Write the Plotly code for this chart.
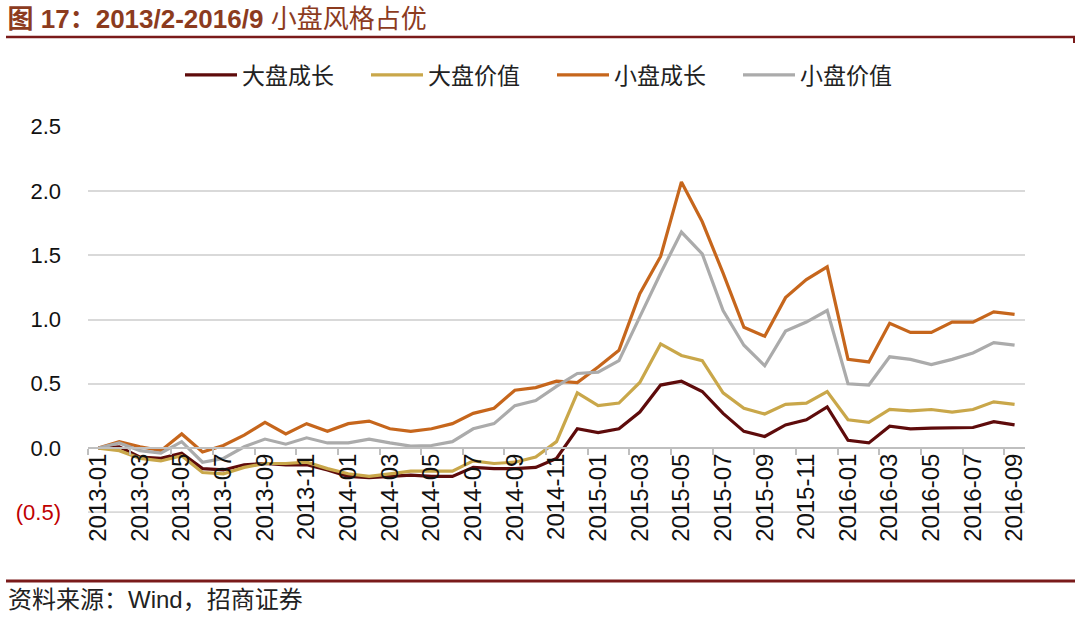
import plotly.graph_objects as go

months = [f"{y}-{m:02d}" for y in (2013, 2014, 2015, 2016) for m in range(1, 13)][:45]

large_growth = [0.00, 0.01, -0.07, -0.08, -0.04, -0.16, -0.17, -0.13, -0.12, -0.13, -0.13, -0.17,
                -0.22, -0.23, -0.22, -0.21, -0.22, -0.22, -0.15, -0.16, -0.16, -0.15, -0.08, 0.15,
                0.12, 0.15, 0.28, 0.49, 0.52, 0.44, 0.27, 0.13, 0.09, 0.18, 0.22, 0.32,
                0.06, 0.04, 0.17, 0.15, 0.155, 0.155, 0.16, 0.205, 0.18]
large_value = [0.00, -0.02, -0.08, -0.10, -0.06, -0.19, -0.20, -0.15, -0.12, -0.12, -0.11, -0.16,
               -0.20, -0.22, -0.20, -0.18, -0.18, -0.18, -0.10, -0.12, -0.11, -0.07, 0.05, 0.43,
               0.33, 0.35, 0.51, 0.81, 0.72, 0.68, 0.43, 0.31, 0.265, 0.34, 0.35, 0.44,
               0.22, 0.20, 0.30, 0.29, 0.30, 0.28, 0.30, 0.36, 0.34]
small_growth = [0.00, 0.05, 0.01, -0.02, 0.11, -0.03, 0.02, 0.10, 0.20, 0.11, 0.19, 0.13,
                0.19, 0.21, 0.15, 0.13, 0.15, 0.19, 0.27, 0.31, 0.45, 0.47, 0.52, 0.51,
                0.63, 0.76, 1.20, 1.49, 2.07, 1.76, 1.36, 0.94, 0.87, 1.17, 1.31, 1.41,
                0.69, 0.67, 0.97, 0.90, 0.90, 0.98, 0.98, 1.06, 1.04]
small_value = [0.00, 0.04, -0.02, -0.04, 0.05, -0.11, -0.08, 0.01, 0.07, 0.03, 0.08, 0.04,
               0.04, 0.07, 0.04, 0.015, 0.02, 0.05, 0.15, 0.19, 0.33, 0.37, 0.48, 0.58,
               0.59, 0.68, 1.02, 1.36, 1.68, 1.51, 1.07, 0.80, 0.64, 0.91, 0.98, 1.07,
               0.50, 0.49, 0.71, 0.69, 0.65, 0.69, 0.74, 0.82, 0.80]

series_names = ["大盘成长", "大盘价值", "小盘成长", "小盘价值"]
series_colors = ["#5E0B0B", "#C9A74A", "#C6661C", "#ABABAB"]
series_values = [large_growth, large_value, small_growth, small_value]

y_ticks = [-0.5, 0.0, 0.5, 1.0, 1.5, 2.0, 2.5]
y_ticktext = ["<span style='color:#C00000'>(0.5)</span>", "0.0", "0.5", "1.0", "1.5", "2.0", "2.5"]

title_text = "<b>图 17：2013/2-2016/9</b> 小盘风格占优"
source_text = "资料来源：Wind，招商证券"

CJK = "Liberation Sans, Arial, Noto Sans CJK SC, sans-serif"

fig = go.Figure()
for name, color, vals in zip(series_names, series_colors, series_values):
    fig.add_trace(go.Scatter(x=months, y=vals, name=name, mode="lines",
                             line=dict(color=color, width=3.2)))

ML, MR, MT, MB = 88, 55, 126, 105
W, H = 1080, 618
pw = W - ML - MR
ph = H - MT - MB
ymin, ymax = -0.505, 2.505

def px_x(px):
    return (px - ML) / pw

def px_y(py):
    return (H - MB - py) / ph

fig.update_layout(
    width=W, height=H,
    margin=dict(l=ML, r=MR, t=MT, b=MB, autoexpand=False),
    paper_bgcolor="white", plot_bgcolor="white",
    font=dict(family=CJK, color="#222222"),
    title=dict(text=title_text, x=0.007, xref="container", xanchor="left",
               y=1 - 19 / H, yref="container", yanchor="middle",
               font=dict(size=26, color="#8C3B1E", family=CJK)),
    showlegend=True,
    legend=dict(orientation="h", x=px_x(552), xanchor="center", y=px_y(75), yanchor="middle",
                font=dict(size=23, family="Noto Sans CJK SC, sans-serif", color="#222222"),
                itemwidth=52, entrywidth=119, bgcolor="rgba(0,0,0,0)"),
    xaxis=dict(type="category", range=[-0.5, 44.5], anchor="free", position=(0 - ymin) / (ymax - ymin),
               tickmode="linear", dtick=2, tick0=0, tickson="boundaries", automargin=False,
               ticks="outside", ticklen=6, tickwidth=1.5, tickcolor="#BFBFBF",
               showline=True, linecolor="#BFBFBF", linewidth=2, showgrid=False,
               ticklabelstandoff=-5,
               tickangle=-90, tickfont=dict(size=24, family="Liberation Sans, Arial", color="#111111")),
    yaxis=dict(range=[ymin, ymax], tickvals=y_ticks, ticktext=y_ticktext, automargin=False,
               showgrid=True, gridcolor="#D9D9D9", gridwidth=2, zeroline=False,
               showline=False, ticks="", ticklabelstandoff=26,
               tickfont=dict(size=22, family="Liberation Sans, Arial", color="#111111")),
    shapes=[
        dict(type="line", xref="paper", yref="paper", x0=px_x(6), x1=px_x(1075), y0=px_y(37), y1=px_y(37),
             line=dict(color="#7A1A1A", width=2.5)),
        dict(type="line", xref="paper", yref="paper", x0=px_x(1074), x1=px_x(1074), y0=px_y(37), y1=px_y(43),
             line=dict(color="#7A1A1A", width=2)),
        dict(type="line", xref="paper", yref="paper", x0=px_x(6), x1=px_x(1075), y0=px_y(581), y1=px_y(581),
             line=dict(color="#7A1A1A", width=3)),
        dict(type="line", xref="paper", yref="y", x0=0, x1=1, y0=-0.5, y1=-0.5, layer="below",
             line=dict(color="#D9D9D9", width=2)),
    ],
    annotations=[
        dict(text=source_text, xref="paper", yref="paper", x=px_x(6), y=px_y(599),
             xanchor="left", yanchor="middle", showarrow=False,
             font=dict(size=24, family=CJK, color="#222222")),
    ],
)

fig.write_html("out.html", config={"displayModeBar": False},
               post_script="document.body.style.margin='0';document.body.style.padding='0';")
